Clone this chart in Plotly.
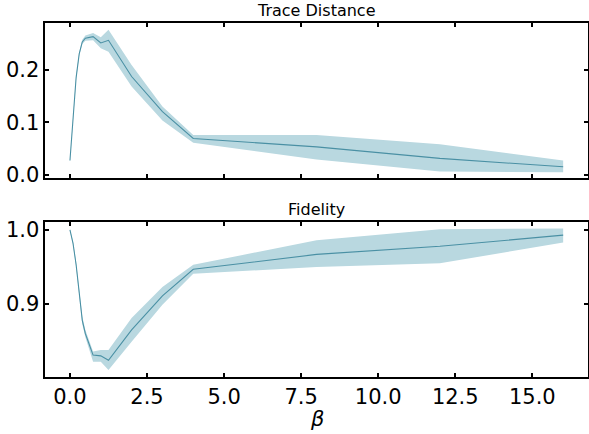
import plotly.graph_objects as go
from plotly.subplots import make_subplots

beta = [0, 0.1, 0.2, 0.3, 0.4, 0.5, 0.75, 1.0, 1.25, 2, 3, 4, 8, 12, 16]

td_mean = [0.027, 0.11, 0.185, 0.23, 0.253, 0.26, 0.263, 0.251, 0.256, 0.187, 0.12, 0.069, 0.053, 0.031, 0.015]
td_low = [0.026, 0.108, 0.182, 0.227, 0.249, 0.255, 0.256, 0.241, 0.234, 0.168, 0.103, 0.061, 0.029, 0.006, 0.0045]
td_high = [0.028, 0.112, 0.188, 0.233, 0.257, 0.265, 0.270, 0.262, 0.276, 0.209, 0.130, 0.0756, 0.0756, 0.058, 0.027]

fid_mean = [1.0, 0.982, 0.953, 0.915, 0.878, 0.86, 0.831, 0.83, 0.824, 0.865, 0.911, 0.947, 0.967, 0.978, 0.993]
fid_low = [0.999, 0.980, 0.950, 0.911, 0.873, 0.855, 0.822, 0.822, 0.811, 0.849, 0.899, 0.941, 0.950, 0.955, 0.983]
fid_high = [1.001, 0.984, 0.956, 0.919, 0.883, 0.865, 0.836, 0.838, 0.838, 0.881, 0.923, 0.953, 0.986, 1.001, 1.002]

titles = ["Trace Distance", "Fidelity"]
xticks = [0, 2.5, 5, 7.5, 10, 12.5, 15]
xticklabels = ["0.0", "2.5", "5.0", "7.5", "10.0", "12.5", "15.0"]

LINE = "rgb(74,144,164)"
BAND = "rgb(185,216,224)"
FONT = "DejaVu Sans"

fig = make_subplots(rows=2, cols=1)

def add_panel(row, mean, low, high):
    fig.add_trace(go.Scatter(x=beta, y=low, mode="lines", line=dict(width=0, color=BAND),
                             showlegend=False, hoverinfo="skip"), row=row, col=1)
    fig.add_trace(go.Scatter(x=beta, y=high, mode="lines", line=dict(width=0, color=BAND),
                             fill="tonexty", fillcolor=BAND, showlegend=False, hoverinfo="skip"), row=row, col=1)
    fig.add_trace(go.Scatter(x=beta, y=mean, mode="lines", line=dict(width=1.1, color=LINE),
                             showlegend=False), row=row, col=1)

add_panel(1, td_mean, td_low, td_high)
add_panel(2, fid_mean, fid_low, fid_high)

axis_common = dict(showgrid=False, zeroline=False, showline=True, linecolor="black", linewidth=1.5,
                   mirror="allticks", ticks="inside", ticklen=4, tickwidth=1.5, tickcolor="black",
                   automargin=False,
                   tickfont=dict(family=FONT, size=21, color="black"))

fig.update_xaxes(**axis_common, range=[-0.8, 16.8], tickvals=xticks, ticktext=xticklabels)
fig.update_xaxes(showticklabels=False, row=1, col=1)
fig.update_xaxes(domain=[0.0769, 0.998])
fig.update_yaxes(**axis_common)
fig.update_yaxes(range=[-0.0063, 0.289], tickvals=[0.0, 0.1, 0.2], ticktext=["0.0", "0.1", "0.2"],
                 domain=[0.5899, 0.947], row=1, col=1)
fig.update_yaxes(range=[0.8014, 1.0108], tickvals=[0.9, 1.0], ticktext=["0.9", "1.0"],
                 domain=[0.1313, 0.4885], row=2, col=1)

fig.add_annotation(text=titles[0], x=0.5376, y=0.947, xref="paper", yref="paper",
                   xanchor="center", yanchor="bottom", yshift=1, showarrow=False,
                   font=dict(family=FONT, size=16, color="black"))
fig.add_annotation(text=titles[1], x=0.5376, y=0.4885, xref="paper", yref="paper",
                   xanchor="center", yanchor="bottom", yshift=1, showarrow=False,
                   font=dict(family=FONT, size=16, color="black"))
fig.add_annotation(text="<i>β</i>", x=0.5376, y=0.0, xref="paper", yref="paper",
                   xanchor="center", yanchor="bottom", yshift=1, showarrow=False,
                   font=dict(family=FONT, size=21, color="black"))

fig.update_layout(width=589, height=434, margin=dict(l=0, r=0, t=0, b=0),
                  plot_bgcolor="white", paper_bgcolor="white")

post = ("document.body.style.margin='0';document.body.style.overflow='hidden';"
        "Plotly.relayout(document.getElementById('{plot_id}'), {width: 589, height: 434});")

fig.write_html("out.html", post_script=post,
               config={"responsive": False, "displayModeBar": False})
